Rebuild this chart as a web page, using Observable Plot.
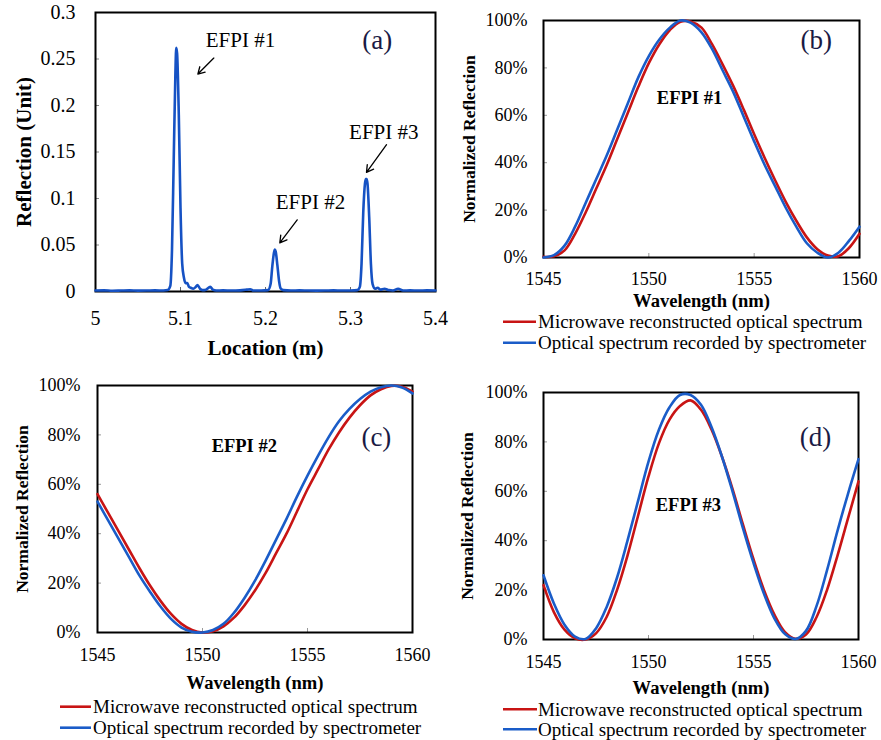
<!DOCTYPE html>
<html>
<head>
<meta charset="utf-8">
<script src="https://cdn.jsdelivr.net/npm/d3@7"></script>
<script src="https://cdn.jsdelivr.net/npm/@observablehq/plot@0.6"></script>
<style>
  html, body { margin: 0; padding: 0; background: #fff; }
  #fig { position: relative; width: 881px; height: 740px; overflow: hidden; background: #fff; }
  #fig > svg { position: absolute; }
</style>
</head>
<body>
<div id="fig"></div>
<script>
// ---------------- DATA ----------------
// Panel (a): reflection vs location
const locationM = [5.000, 5.010, 5.020, 5.030, 5.040, 5.050, 5.060, 5.070, 5.080, 5.085, 5.088, 5.090, 5.092, 5.094, 5.095, 5.096, 5.098, 5.100, 5.102, 5.104, 5.106, 5.108, 5.110, 5.112, 5.115, 5.118, 5.120, 5.123, 5.126, 5.130, 5.135, 5.138, 5.142, 5.150, 5.160, 5.170, 5.178, 5.182, 5.186, 5.195, 5.203, 5.206, 5.208, 5.210, 5.211, 5.212, 5.214, 5.216, 5.218, 5.221, 5.230, 5.240, 5.250, 5.260, 5.270, 5.280, 5.290, 5.300, 5.308, 5.311, 5.313, 5.315, 5.317, 5.318, 5.319, 5.320, 5.322, 5.324, 5.326, 5.329, 5.332, 5.335, 5.340, 5.345, 5.350, 5.356, 5.362, 5.370, 5.380, 5.390, 5.400];
const reflectionUnit = [0.001, 0.0012, 0.0008, 0.001, 0.0012, 0.0009, 0.001, 0.0012, 0.001, 0.0015, 0.006, 0.045, 0.14, 0.235, 0.262, 0.256, 0.19, 0.09, 0.03, 0.015, 0.009, 0.009, 0.005, 0.004, 0.003, 0.005, 0.007, 0.003, 0.0015, 0.002, 0.005, 0.002, 0.001, 0.0012, 0.001, 0.0012, 0.002, 0.0025, 0.001, 0.001, 0.0015, 0.008, 0.027, 0.042, 0.045, 0.043, 0.028, 0.011, 0.003, 0.0015, 0.001, 0.0012, 0.001, 0.0009, 0.001, 0.0012, 0.001, 0.0011, 0.0015, 0.005, 0.03, 0.085, 0.116, 0.121, 0.121, 0.116, 0.08, 0.03, 0.008, 0.003, 0.004, 0.002, 0.003, 0.0015, 0.001, 0.003, 0.001, 0.0012, 0.001, 0.0012, 0.001];
const aXTicks = [5, 5.1, 5.2, 5.3, 5.4];
const aXTickLabels = ["5", "5.1", "5.2", "5.3", "5.4"];
const aYTicks = [0, 0.05, 0.1, 0.15, 0.2, 0.25, 0.3];
const aYTickLabels = ["0", "0.05", "0.1", "0.15", "0.2", "0.25", "0.3"];
const aPeakNames = ["EFPI #1", "EFPI #2", "EFPI #3"];

// Panels (b)-(d): normalized reflection (%) vs wavelength (nm)
const wavelengthNm = [1545, 1545.5, 1546, 1546.5, 1547, 1547.5, 1548, 1548.5, 1549, 1549.5, 1550, 1550.5, 1551, 1551.5, 1552, 1552.5, 1553, 1553.5, 1554, 1554.5, 1555, 1555.5, 1556, 1556.5, 1557, 1557.5, 1558, 1558.5, 1559, 1559.5, 1560];
const efpi1Microwave = [0.3, 0.5, 3, 10, 19, 29, 39, 50, 61, 72, 82, 90, 96, 99.5, 99.5, 97, 90, 81.5, 72.5, 62.5, 52, 42, 32.5, 23.5, 15.5, 8.5, 3.5, 0.8, 0.5, 4, 10];
const efpi1Spectrometer = [0, 1, 5, 13, 23, 33, 43, 54, 65, 76, 85, 92, 97, 100, 99, 95, 88, 79, 70, 59.5, 49, 39, 30, 21, 13, 6, 2, 0, 2, 7, 13];
const efpi2Microwave = [56, 48.5, 41, 33.5, 26, 19, 12.8, 7.5, 3.5, 1, 0, 0.5, 2.5, 6, 11, 17, 24, 32, 40, 49, 58, 66, 74, 81, 87, 92, 96, 98.5, 99.8, 99.5, 97.5];
const efpi2Spectrometer = [53, 45.5, 38, 30.5, 23, 16.5, 10.5, 5.5, 2, 0.3, 0, 1, 3.5, 8, 14, 21, 29, 37.5, 46, 55, 63.5, 71.5, 79, 85.5, 90.5, 94.5, 97.5, 99.3, 100, 99.2, 96.8];
const efpi3Microwave = [22, 11, 4, 0.5, 0, 2.5, 9, 20, 34, 50, 66, 79.5, 89, 94.5, 96.8, 93, 85, 74, 61, 46.5, 32.5, 20, 10, 3, 0.3, 2, 9, 20, 34, 49, 64];
const efpi3Spectrometer = [26, 14.5, 6, 1.2, 0.2, 4.5, 13, 25, 40, 56, 72, 85, 94, 99, 99, 95, 86, 74, 60, 45, 31, 18.5, 8.5, 2.2, 0.2, 3.5, 13.5, 28, 44, 59, 73];
const wlTicks = [1545, 1550, 1555, 1560];
const wlTickLabels = ["1545", "1550", "1555", "1560"];
const pctTicks = [0, 20, 40, 60, 80, 100];
const pctTickLabels = ["0%", "20%", "40%", "60%", "80%", "100%"];
const seriesNames = ["Microwave reconstructed optical spectrum", "Optical spectrum recorded by spectrometer"];

// ---------------- STYLE ----------------
const SERIF = '"Liberation Serif", "Times New Roman", Times, serif';
const RED = "#c81414";
const BLUE = "#1a5cc8";
const BLUE_A = "#1652c4";
const TAG = "#1a1a44";
const fig = document.getElementById("fig");

function fmt(ticks, labels) { return d => labels[ticks.indexOf(d)]; }

function place(svg, left, top) {
  svg.style.left = left + "px";
  svg.style.top = top + "px";
  fig.appendChild(svg);
}

// ---------------- PANEL (a) ----------------
{
  const W = 460, H = 360, ml = 95, mr = 25, mt = 12, mb = 69;
  const pw = W - ml - mr, ph = H - mt - mb;
  const idx = d3.range(locationM.length);
  const svg = Plot.plot({
    width: W, height: H, marginLeft: ml, marginRight: mr, marginTop: mt, marginBottom: mb,
    style: {background: "transparent", overflow: "visible", fontFamily: SERIF, color: "#000"},
    x: {domain: [5, 5.4]},
    y: {domain: [0, 0.3]},
    marks: [
      Plot.tickX(aXTicks.slice(1, -1), {x: d => d, insetTop: ph - 4, stroke: "#666", strokeWidth: 1}),
      Plot.tickY(aYTicks.slice(1, -1), {y: d => d, insetRight: pw - 4, stroke: "#888", strokeWidth: 1}),
      Plot.frame({stroke: "#000", strokeWidth: 2}),
      Plot.line(idx, {x: i => locationM[i], y: i => reflectionUnit[i], stroke: BLUE_A, strokeWidth: 2.6, curve: "monotone-x"}),
      Plot.axisX({ticks: aXTicks, tickFormat: fmt(aXTicks, aXTickLabels), tickSize: 0, tickPadding: 19.5, fontSize: 20, label: null}),
      Plot.axisX({ticks: [], tickSize: 0, label: "Location (m)", labelAnchor: "center", labelArrow: "none", labelOffset: 63, fontSize: 21, fontWeight: "bold"}),
      Plot.axisY({ticks: aYTicks, tickFormat: fmt(aYTicks, aYTickLabels), tickSize: 0, tickPadding: 20, fontSize: 20, label: null}),
      Plot.axisY({ticks: [], tickSize: 0, label: "Reflection (Unit)", labelAnchor: "center", labelArrow: "none", labelOffset: 79, fontSize: 21, fontWeight: "bold"}),
      Plot.arrow([0, 1, 2], {
        x1: i => [5.1392, 5.2373, 5.3424][i], y1: i => [0.2510, 0.0770, 0.1579][i],
        x2: i => [5.1204, 5.2168, 5.3188][i], y2: i => [0.2338, 0.0523, 0.1281][i],
        stroke: "#000", strokeWidth: 1.3, headLength: 9
      }),
      Plot.text([0, 1, 2], {
        x: i => [5.1706, 5.2529, 5.3392][i], y: i => [0.2624, 0.0888, 0.1640][i],
        text: i => aPeakNames[i], lineAnchor: "bottom", textAnchor: "middle", fontSize: 21, fill: "#000"
      }),
      Plot.text(["(a)"], {x: 5.3314, y: 0.2605, text: d => d, lineAnchor: "bottom", textAnchor: "middle", fontSize: 27, fill: TAG})
    ]
  });
  place(svg, 0, 0);
}

// ---------------- PANELS (b)-(d) ----------------
function spectrumPanel(o) {
  const {W, H, ml, mr, mt, mb, red, blue, tag, tagX, tagY, name, nameX, nameY, yPad, xPad, xLabOff, yLabOff} = o;
  const pw = W - ml - mr, ph = H - mt - mb;
  return Plot.plot({
    width: W, height: H, marginLeft: ml, marginRight: mr, marginTop: mt, marginBottom: mb,
    style: {background: "transparent", overflow: "visible", fontFamily: SERIF, color: "#000"},
    x: {domain: [1545, 1560]},
    y: {domain: [0, 100]},
    marks: [
      Plot.tickX(wlTicks.slice(1, -1), {x: d => d, insetTop: ph - 4, stroke: "#999", strokeWidth: 1}),
      Plot.tickY(pctTicks.slice(1, -1), {y: d => d, insetRight: pw - 4, stroke: "#999", strokeWidth: 1}),
      Plot.frame({stroke: "#000", strokeWidth: 2}),
      Plot.line(wavelengthNm, {x: d => d, y: (d, i) => red[i], stroke: RED, strokeWidth: 2.6, curve: "catmull-rom"}),
      Plot.line(wavelengthNm, {x: d => d, y: (d, i) => blue[i], stroke: BLUE, strokeWidth: 2.6, curve: "catmull-rom"}),
      Plot.axisX({ticks: wlTicks, tickFormat: fmt(wlTicks, wlTickLabels), tickSize: 0, tickPadding: xPad, fontSize: 18, label: null}),
      Plot.axisX({ticks: [], tickSize: 0, label: "Wavelength (nm)", labelAnchor: "center", labelArrow: "none", labelOffset: xLabOff, fontSize: 18.6, fontWeight: "bold"}),
      Plot.axisY({ticks: pctTicks, tickFormat: fmt(pctTicks, pctTickLabels), tickSize: 0, tickPadding: yPad, fontSize: 18, label: null}),
      Plot.axisY({ticks: [], tickSize: 0, label: "Normalized Reflection", labelAnchor: "center", labelArrow: "none", labelOffset: yLabOff, fontSize: 17.5, fontWeight: "bold"}),
      Plot.text([name], {x: nameX, y: nameY, text: d => d, lineAnchor: "bottom", textAnchor: "middle", fontSize: 18.5, fontWeight: "bold", fill: "#000"}),
      Plot.text([tag], {x: tagX, y: tagY, text: d => d, lineAnchor: "bottom", textAnchor: "middle", fontSize: 27, fill: TAG})
    ]
  });
}

place(spectrumPanel({W: 441, H: 320, ml: 103, mr: 22, mt: 20, mb: 63,
  red: efpi1Microwave, blue: efpi1Spectrometer, tag: "(b)", tagX: 1557.95, tagY: 87.8,
  name: "EFPI #1", nameX: 1551.93, nameY: 64.6, yPad: 16, xPad: 15, xLabOff: 49, yLabOff: 81}), 440, 0);

place(spectrumPanel({W: 440, H: 380, ml: 97, mr: 28, mt: 25, mb: 108,
  red: efpi2Microwave, blue: efpi2Spectrometer, tag: "(c)", tagX: 1558.28, tagY: 75.6,
  name: "EFPI #2", nameX: 1551.99, nameY: 72.9, yPad: 17, xPad: 15.5, xLabOff: 56, yLabOff: 82}), 0, 360);

place(spectrumPanel({W: 441, H: 380, ml: 103, mr: 23, mt: 32, mb: 101,
  red: efpi3Microwave, blue: efpi3Spectrometer, tag: "(d)", tagX: 1557.95, tagY: 78.5,
  name: "EFPI #3", nameX: 1551.9, nameY: 51.9, yPad: 16, xPad: 16, xLabOff: 54, yLabOff: 83}), 440, 360);

// ---------------- LEGENDS ----------------
{
  const colors = [RED, BLUE];
  const legends = [
    {x1: 503, x2: 536, tx: 538, rows: [{ly: 321.7, by: 328}, {ly: 342.7, by: 349}]},
    {x1: 60, x2: 91, tx: 93, rows: [{ly: 706.7, by: 712.5}, {ly: 727.7, by: 733.5}]},
    {x1: 503, x2: 537, tx: 538, rows: [{ly: 709.3, by: 716}, {ly: 729.3, by: 736}]}
  ];
  const svg = d3.create("svg").attr("width", 881).attr("height", 740)
    .style("left", "0px").style("top", "0px").style("pointer-events", "none");
  for (const lg of legends) {
    lg.rows.forEach((r, i) => {
      svg.append("line").attr("x1", lg.x1).attr("x2", lg.x2).attr("y1", r.ly).attr("y2", r.ly)
        .attr("stroke", colors[i]).attr("stroke-width", 2.6);
      svg.append("text").attr("x", lg.tx).attr("y", r.by).attr("font-family", SERIF)
        .attr("font-size", 19).attr("fill", "#000").text(seriesNames[i]);
    });
  }
  fig.appendChild(svg.node());
}
</script>
</body>
</html>
